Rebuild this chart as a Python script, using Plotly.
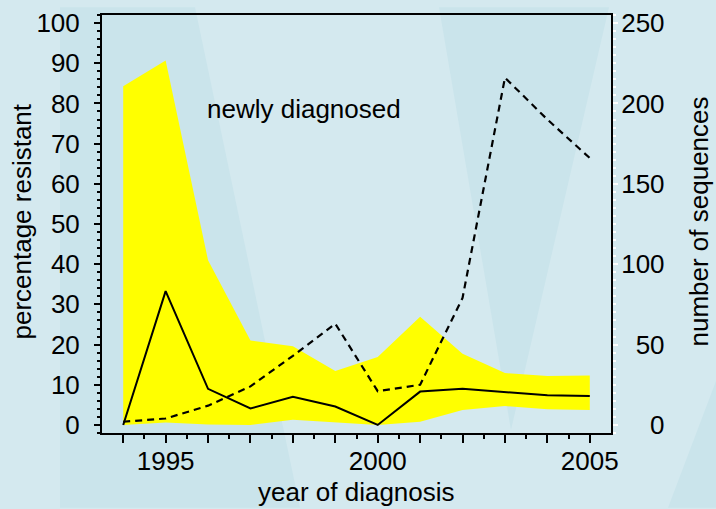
"""
Drug resistance among newly diagnosed patients, by year of diagnosis
"""

import plotly.graph_objects as go

# data
years = [1994, 1995, 1996, 1997, 1998, 1999, 2000, 2001, 2002, 2003, 2004, 2005]
pct_resistant = [0, 33.3, 9.0, 4.1, 7.0, 4.6, 0, 8.3, 9.0, 8.2, 7.4, 7.2]
ci_upper = [84.3, 90.7, 41.0, 21.0, 19.6, 13.4, 16.9, 26.9, 17.7, 12.9, 12.2, 12.3]
ci_lower = [0, 0.6, 0.1, 0, 1.3, 0.6, 0, 0.8, 3.7, 4.7, 3.9, 3.7]
n_sequences = [2, 4, 12, 24, 43, 63, 21, 25, 79, 216, 190, 166]

x_labels = {1995: "1995", 2000: "2000", 2005: "2005"}
seq_ticks = [0, 50, 100, 150, 200, 250]

FONT = "Liberation Sans, Arial, sans-serif"
FS = 26
BG = "#d4e9ef"
STRIPE = "#cae4eb"

fig = go.Figure()

# confidence band
fig.add_trace(go.Scatter(
    x=years, y=ci_lower, mode="lines",
    line=dict(width=0, color="#ffff00"), showlegend=False, hoverinfo="skip"
))
fig.add_trace(go.Scatter(
    x=years, y=ci_upper, mode="lines", fill="tonexty",
    fillcolor="#ffff00", line=dict(width=0, color="#ffff00"),
    showlegend=False, name="95% CI"
))

# percentage resistant
fig.add_trace(go.Scatter(
    x=years, y=pct_resistant, mode="lines",
    line=dict(color="black", width=2), name="percentage resistant",
    showlegend=False
))

# number of sequences on right axis
fig.add_trace(go.Scatter(
    x=years, y=n_sequences, mode="lines", yaxis="y2",
    line=dict(color="black", width=2.2, dash="7px,5px"),
    name="number of sequences", showlegend=False
))

# slide background stripes (pixel positions -> paper coords)
def px_to_paper(px, py):
    return (px - 102) / 509, (433 - py) / 425

def stripe(points):
    pts = [px_to_paper(px, py) for px, py in points]
    path = "M " + " L ".join(f"{x:.4f},{y:.4f}" for x, y in pts) + " Z"
    return dict(type="path", path=path, xref="paper", yref="paper",
                fillcolor=STRIPE, line=dict(width=0), layer="below")

fig.update_layout(shapes=[
    stripe([(60, 0), (195, 0), (300, 509), (60, 509)]),
    stripe([(439, 0), (609, 0), (511, 430)]),
    stripe([(716, 380), (716, 509), (668, 509)]),
])

text_font = dict(family=FONT, size=FS, color="black")

fig.add_annotation(
    x=1995.93, y=78.7, xref="x", yref="y", text="newly diagnosed",
    showarrow=False, xanchor="left", yanchor="middle", font=text_font
)

# axis titles
fig.add_annotation(
    x=(356 - 102) / 509, y=(433 - 493) / 425, xref="paper", yref="paper",
    text="year of diagnosis", showarrow=False,
    xanchor="center", yanchor="middle", font=text_font
)
fig.add_annotation(
    x=(22 - 102) / 509, y=(433 - 218) / 425, xref="paper", yref="paper",
    text="percentage resistant", textangle=-90, showarrow=False,
    xanchor="center", yanchor="middle", font=text_font
)
fig.add_annotation(
    x=(699 - 102) / 509, y=(433 - 218) / 425, xref="paper", yref="paper",
    text="number of sequences", textangle=-90, showarrow=False,
    xanchor="center", yanchor="middle", font=text_font
)

fig.update_layout(
    width=716, height=509,
    margin=dict(l=102, r=105, t=8, b=76),
    paper_bgcolor=BG, plot_bgcolor="rgba(0,0,0,0)",
    font=dict(family=FONT, size=FS, color="black"),
    showlegend=False,
    xaxis=dict(
        range=[1993.5, 2005.5], showgrid=False, zeroline=False,
        showline=True, linecolor="black", linewidth=2, mirror=True,
        tickmode="array", tickvals=years,
        ticktext=[x_labels.get(y, "") for y in years],
        ticks="outside", ticklen=8, tickwidth=2, tickcolor="black",
        minor=dict(tickmode="array", tickvals=[y + 0.5 for y in years[:-1]],
                   ticks="outside", ticklen=4, tickwidth=1.5, tickcolor="black"),
        ticklabelstandoff=-4,
    ),
    yaxis=dict(
        range=[-2, 102], showgrid=False, zeroline=False,
        showline=True, linecolor="black", linewidth=2,
        tickmode="linear", tick0=0, dtick=10,
        ticks="outside", ticklen=6, tickwidth=2, tickcolor="black",
        minor=dict(dtick=2, ticks="outside", ticklen=3, tickwidth=2,
                   tickcolor="black"),
        ticklabelstandoff=9,
    ),
    yaxis2=dict(
        range=[-5, 255], overlaying="y", side="right",
        showgrid=False, zeroline=False,
        showline=True, linecolor="black", linewidth=2,
        tickmode="array", tickvals=seq_ticks,
        # figure spaces keep the right-hand labels right-aligned
        ticktext=[str(v).rjust(3, "\u2007") for v in seq_ticks],
        ticks="outside", ticklen=5, tickwidth=2, tickcolor="white",
        minor=dict(tickmode="linear", tick0=0, dtick=5, ticks="outside",
                   ticklen=3, tickwidth=1.5, tickcolor="white"),
        ticklabelstandoff=-2,
    ),
)

# drop the browser's default page margin so the figure fills the window
fig.write_html(
    "out.html",
    config={"displayModeBar": False},
    post_script="document.body.style.margin = '0';",
)
